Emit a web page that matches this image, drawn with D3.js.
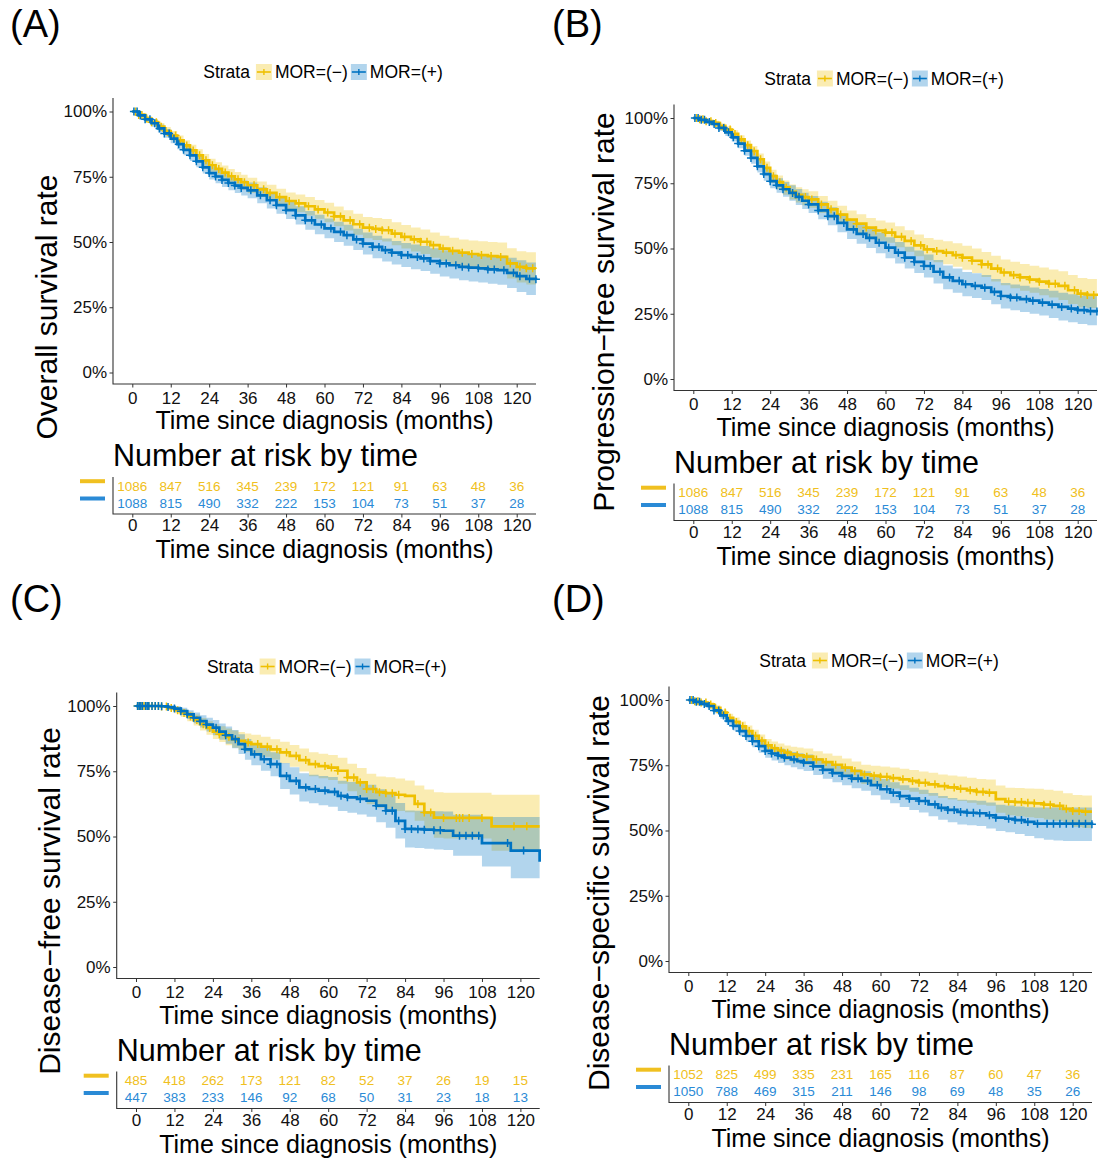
<!DOCTYPE html>
<html>
<head>
<meta charset="utf-8">
<script src="https://cdn.jsdelivr.net/npm/d3@7"></script>
<style>
  body { margin: 0; background: #fff; }
  text { font-family: "Liberation Sans", Arial, sans-serif; }
</style>
</head>
<body>
<div id="chart"></div>
<script>
// time grid of the step curves (months)
const T = [0,2,4,6,8,10,12,14,16,18,20,22,24,26,28,30,32,34,36,39,42,45,48,51,54,57,60,63,66,69,72,75,78,81,84,87,90,93,96,99,102,105,108,111,114,117,120,123,126];

const monthTicks = [0,12,24,36,48,60,72,84,96,108,120];
const pctTicks = [0,25,50,75,100];
const groups = ["MOR=(\u2212)", "MOR=(+)"];

// (A) overall survival
const osNeg   = [100,98.7,97.3,95.9,94.2,92.5,90.8,88.9,87.0,85.1,83.2,81.3,79.4,78.0,76.6,75.2,74.0,72.9,71.7,70.2,68.8,67.2,65.7,64.8,63.7,62.5,61.3,59.8,58.3,56.8,55.5,55.0,54.5,53.2,52.0,51.0,50.1,48.8,47.5,46.6,45.9,45.4,45.0,44.6,44.3,41.8,40.5,39.9,39.9];
const osNegLo = [100,98,96.3,94.6,92.7,90.9,89,87,85,82.9,80.9,78.9,76.9,75.4,73.9,72.5,71.2,70,68.8,67.2,65.7,64,62.4,61.4,60.2,58.9,57.6,56,54.4,52.8,51.4,50.8,50.2,48.8,47.5,46.4,45.4,44,42.6,41.6,40.8,40.2,39.7,39.2,38.8,36,34.5,33.7,33.7];
const osNegHi = [100,99.4,98.3,97.1,95.6,94.1,92.5,90.8,89,87.3,85.5,83.7,81.9,80.6,79.3,78,76.8,75.8,74.6,73.2,71.9,70.4,69,68.2,67.2,66.1,65,63.6,62.2,60.8,59.6,59.2,58.8,57.6,56.5,55.6,54.8,53.6,52.4,51.6,51,50.6,50.3,50,49.8,47.6,46.5,46.1,46.1];
const osPos   = [100,98.5,97.0,95.5,93.5,91.6,89.6,87.5,85.3,83.2,80.9,78.6,76.4,75.1,73.8,72.6,71.6,70.7,69.8,67.9,66.0,64.1,62.2,60.2,58.3,56.7,55.2,53.9,52.6,51.0,49.4,48.1,46.9,45.9,45.0,44.3,43.7,42.7,41.8,41.1,40.5,40.2,39.9,39.5,39.2,38.2,36.9,35.9,35.7];
const osPosLo = [100,97.8,96,94.2,92,89.9,87.8,85.5,83.2,81,78.6,76.2,73.9,72.5,71.1,69.8,68.8,67.8,66.8,64.8,62.8,60.8,58.8,56.7,54.7,53,51.4,50,48.6,46.9,45.2,43.8,42.5,41.4,40.4,39.6,38.9,37.8,36.8,36,35.3,34.9,34.5,34,33.6,32.4,30.8,29.7,29.5];
const osPosHi = [100,99.2,98,96.8,95,93.3,91.4,89.5,87.4,85.4,83.2,81,78.9,77.7,76.5,75.4,74.4,73.6,72.8,71,69.2,67.4,65.6,63.7,61.9,60.4,59,57.8,56.6,55.1,53.6,52.4,51.3,50.4,49.6,49,48.5,47.6,46.8,46.2,45.7,45.5,45.3,45,44.8,44,43,42.1,41.9];
const osNegCens = [1,2,3,4.5,6,7.5,9,10.5,12,13.5,15,17,19,21,23,25,27,29,31,33,35,38,41,43,46,49,52,55,58,61,63,65,68,71,74,76,78,80,82,85,88,90,92,94,97,100,103,106,109,112,115,118,121,123,125];
const osPosCens = [0.5,1.5,2.5,4,5.5,7,8.5,10,11.5,13,14.5,16,18,20,22,24,26,28,30,32,34,37,40,43,45,48,51,54,56,59,62,65,67,70,72,75,77,79,81,84,86,89,91,93,96,98,101,103,105,108,111,113,116,119,121,124,126];
const osRiskNeg = [1086,847,516,345,239,172,121,91,63,48,36];
const osRiskPos = [1088,815,490,332,222,153,104,73,51,37,28];

// (B) progression-free survival
const pfsNeg   = [100,99.5,98.8,98.1,97.0,95.6,93.9,91.8,89.6,87.3,84.2,80.9,77.7,75.4,73.4,71.7,70.6,69.7,68.8,66.9,65.0,63.0,61.1,59.5,58.0,56.9,56.1,54.5,52.9,51.2,49.7,49.0,48.4,47.5,46.5,45.3,43.9,42.3,40.8,39.8,38.9,38.1,37.3,36.5,35.7,34.0,32.7,32.2,31.8];
const pfsNegLo = [100,99.1,98.1,97.2,95.9,94.3,92.4,90.1,87.7,85.2,82,78.5,75.1,72.7,70.6,68.8,67.6,66.6,65.6,63.6,61.6,59.5,57.5,55.8,54.2,53,52.2,50.5,48.8,47,45.5,44.7,44,43,41.9,40.6,39.1,37.4,35.9,34.8,33.8,33,32.1,31.2,30.3,28.7,27.5,27.2,27];
const pfsNegHi = [100,99.9,99.4,98.9,98,96.8,95.3,93.4,91.4,89.3,86.4,83.3,80.2,78,76.1,74.5,73.5,72.7,71.9,70.1,68.3,66.4,64.6,63.1,61.7,60.7,60,58.5,57,55.4,54,53.4,52.8,52,51.1,50,48.7,47.2,45.8,44.9,44.1,43.4,42.7,42,41.3,39.8,38.7,38.3,38];
const pfsPos   = [100,99.3,98.5,97.7,96.2,94.5,92.6,90.2,87.5,84.7,81.5,78.5,75.8,74.2,72.7,71.3,69.8,68.3,66.9,64.6,62.4,59.8,57.3,55.6,54.1,52.2,50.3,48.4,46.5,44.9,43.3,41.1,38.9,37.6,36.3,35.7,35.0,33.4,31.8,31.2,30.6,30.0,29.3,28.5,27.6,27.0,26.4,26.0,25.9];
const pfsPosLo = [100,98.8,97.7,96.7,95,93.1,91,88.4,85.5,82.5,79.1,76,73.1,71.4,69.8,68.3,66.7,65.1,63.6,61.2,58.9,56.2,53.6,51.8,50.2,48.2,46.3,44.3,42.3,40.6,38.9,36.6,34.4,33,31.7,31,30.3,28.6,27,26.3,25.7,25,24.3,23.4,22.4,21.7,21.1,20.6,20.4];
const pfsPosHi = [100,99.8,99.2,98.6,97.3,95.8,94.1,91.9,89.4,86.8,83.8,81,78.4,76.9,75.5,74.2,72.8,71.4,70.1,67.9,65.8,63.3,60.9,59.3,57.9,56.1,54.3,52.5,50.7,49.2,47.7,45.6,43.5,42.3,41,40.5,39.8,38.3,36.8,36.2,35.7,35.1,34.5,33.8,33,32.5,32,31.7,31.6];
const pfsNegCens = [1,2,3,4,5.5,7,8.5,10,11.5,13,15,17,19,21,23,25,27,29,32,35,37,40,43,46,48,51,54,57,60,62,65,68,71,73,76,79,82,84,87,90,92,95,97,100,102,105,108,111,113,116,119,121,123,125];
const pfsPosCens = [0.5,1.5,2.5,3.5,5,6.5,8,9.5,11,12.5,14,16,18,20,22,24,26,28,31,33,36,39,42,44,47,50,53,55,58,61,64,66,69,72,74,77,80,83,85,88,91,94,96,99,101,104,106,109,112,115,118,120,122,124,126];
const pfsRiskNeg = [1086,847,516,345,239,172,121,91,63,48,36];
const pfsRiskPos = [1088,815,490,332,222,153,104,73,51,37,28];

// (C) disease-free survival
const dfsNeg   = [100,100,100,100,99.8,99.2,98.4,97.3,96.0,94.6,93.0,91.6,90.2,89.2,88.2,87.3,86.6,86.0,85.4,84.4,83.4,82.2,80.9,79.3,77.7,77.0,76.4,75.2,72.6,70.7,68.2,67.0,66.6,66.0,65.6,62.5,59.2,57.2,57.1,57.1,57.1,57.1,57.1,53.9,53.9,53.9,53.9,53.9,53.9];
const dfsNegLo = [100,100,100,100,99.4,98.4,97.2,95.8,94.2,92.5,90.6,89,87.4,86.2,85,84,83.2,82.5,81.8,80.6,79.5,78.1,76.7,74.9,73.1,72.3,71.6,70.2,67.3,65.2,62.4,61,60.5,59.8,59.3,56,52.5,49.5,49.2,49.2,49.2,49.2,49.2,44.5,44.5,44.5,44.5,44.5,44.5];
const dfsNegHi = [100,100,100,100,100,100,99.6,98.8,97.8,96.7,95.4,94.2,93,92.2,91.4,90.6,90,89.5,89,88.2,87.3,86.3,85.1,83.7,82.3,81.7,81.2,80.2,77.9,76.2,74,73,72.7,72.2,71.5,69.5,68,67,66.8,66.8,66.8,66.8,66.8,66,66,66,66,66,66];
const dfsPos   = [100,100,100,100,99.9,99.6,99.0,98.0,96.8,95.5,94.2,92.9,91.7,90.2,88.8,87.3,85.4,83.4,81.5,79.6,77.7,73.2,71.3,68.8,68.2,67.6,67.1,65.6,65.0,64.4,63.7,61.8,59.9,56.0,52.9,52.8,52.6,52.4,52.2,50.3,50.3,50.3,47.5,47.5,47.5,44.6,44.6,44.6,40.3];
const dfsPosLo = [100,100,100,100,99.6,98.9,98,96.6,95,93.4,91.8,90.2,88.8,87.1,85.5,83.8,81.6,79.4,77.3,75.2,73.1,68.2,66.1,63.4,62.7,62,61.4,59.8,59.1,58.4,57.6,55.5,53.4,49.2,45.8,45.6,45.3,45,44.8,42.6,42.6,42.6,38.5,38.5,38.5,34,34,34,33.8];
const dfsPosHi = [100,100,100,100,100,100,99.9,99.3,98.4,97.5,96.5,95.5,94.6,93.3,92.1,90.8,89.2,87.4,85.7,84,82.3,78.2,76.5,74.2,73.7,73.2,72.8,71.4,70.9,70.4,69.8,68.1,66.4,62.8,60,59.9,59.8,59.7,59.6,58.3,58.3,58.3,57.5,57.5,57.5,57.5,57.5,57.5,57.5];
const dfsNegCens = [0.5,1,1.5,2,2.5,3,4,5,6,7,8,9.5,11,13,15,17,19,21,23,26,29,32,35,38,41,44,47,50,53,56,59,61,63,66,68,70,72,74,76,78,80,82,88,90,92,96,100,101,102,104,108,118,122];
const dfsPosCens = [0.5,1,1.5,2,3,3.5,4,5,6,7,8,10,12,14,16,18,20,22,25,28,31,34,37,40,42,44,47,50,53,56,59,62,64,66,70,75,78,80,82,84,86,88,90,93,95,101,103,105,107,116,121];
const dfsRiskNeg = [485,418,262,173,121,82,52,37,26,19,15];
const dfsRiskPos = [447,383,233,146,92,68,50,31,23,18,13];

// (D) disease-specific survival
const dssNeg   = [100,99.5,99.0,98.3,97.0,95.2,93.2,91.6,89.9,88.1,86.3,84.4,82.6,81.5,80.6,79.8,79.2,78.8,78.3,77.2,76.2,75.2,74.1,72.8,71.5,71.0,70.6,70.1,69.6,69.0,68.3,67.7,67.0,66.5,66.0,65.4,64.8,64.5,62.0,61.1,60.9,60.6,60.4,59.9,59.4,58.3,57.5,57.2,57.2];
const dssNegLo = [100,99.1,98.4,97.5,96,94,91.7,89.9,88,86,84,82,80.1,78.9,77.9,77,76.3,75.8,75.2,74,72.9,71.8,70.6,69.2,67.8,67.2,66.7,66.1,65.5,64.8,64,63.3,62.5,61.9,61.3,60.6,59.9,59.5,56.8,55.8,55.5,55.1,54.8,54.2,53.6,52.3,51.4,51,51];
const dssNegHi = [100,99.9,99.6,99.1,98,96.4,94.7,93.3,91.8,90.2,88.6,86.8,85.1,84.1,83.3,82.6,82.1,81.8,81.4,80.4,79.5,78.6,77.6,76.4,75.2,74.8,74.5,74.1,73.7,73.2,72.6,72.1,71.5,71.1,70.7,70.2,69.7,69.5,67.2,66.4,66.3,66.1,66,65.6,65.2,64.3,63.6,63.4,63.4];
const dssPos   = [100,99.3,98.5,97.7,96.0,94.1,92.0,90.1,88.1,86.2,84.2,82.3,80.5,79.5,78.7,77.9,77.2,76.6,76.0,74.6,73.2,72.0,70.9,69.9,69.0,67.4,65.8,64.5,63.2,62.2,61.3,60.0,58.7,57.9,57.1,56.8,56.6,55.8,54.9,54.5,54.0,53.3,52.6,52.6,52.6,52.6,52.6,52.6,52.4];
const dssPosLo = [100,98.8,97.8,96.8,94.9,92.8,90.4,88.3,86.1,84,81.9,79.8,77.9,76.8,75.9,75,74.2,73.5,72.8,71.3,69.8,68.5,67.3,66.2,65.2,63.5,61.8,60.4,59,57.9,56.9,55.5,54.1,53.2,52.3,52,51.7,50.8,49.8,49.3,48.7,47.9,47,46.5,46.2,46,46,46,45.8];
const dssPosHi = [100,99.8,99.2,98.6,97.1,95.4,93.5,91.8,90,88.3,86.4,84.7,83,82.1,81.4,80.7,80.1,79.6,79.1,77.8,76.5,75.4,74.4,73.5,72.7,71.2,69.7,68.5,67.3,66.4,65.6,64.4,63.2,62.5,61.8,61.6,61.4,60.7,59.9,59.6,59.2,58.9,58.8,58.8,58.8,58.8,58.8,58.8,58.8];
const dssNegCens = [1,2,3,4,5.5,7,8.5,10,11.5,13,15,17,19,21,23,25,27,29,31,34,37,40,43,46,49,52,55,58,60,62,64,67,70,72,74,77,80,83,85,88,90,92,94,100,102,104,106,108,111,113,116,118,120,122,124];
const dssPosCens = [0.5,1.5,2.5,3.5,5,6.5,8,9.5,11,12.5,14,16,18,20,22,24,26,28,30,33,36,39,42,45,48,51,53,56,59,62,64,66,69,72,74,77,79,81,83,85,87,89,91,94,96,100,102,104,106,109,112,114,116,118,120,122,124,126];
const dssRiskNeg = [1052,825,499,335,231,165,116,87,60,47,36];
const dssRiskPos = [1050,788,469,315,211,146,98,69,48,35,26];

const YEL = "#EFC000", BLU = "#0073C2";
const YEL_T = "#F0C020", BLU_T = "#2A8AD6";
const width = 1098, height = 1160;

const panels = [
  { label: "(A)", lx: 10, ly: 37, dx: 0, dy: 0, ytitle: "Overall survival rate", ytx: 57, yty: 307,
    neg: [osNeg, osNegLo, osNegHi, osNegCens], pos: [osPos, osPosLo, osPosHi, osPosCens], risk: [osRiskNeg, osRiskPos] },
  { label: "(B)", lx: 552, ly: 37, dx: 561, dy: 6.5, ytitle: "Progression\u2212free survival rate", ytx: 614, yty: 312,
    neg: [pfsNeg, pfsNegLo, pfsNegHi, pfsNegCens], pos: [pfsPos, pfsPosLo, pfsPosHi, pfsPosCens], risk: [pfsRiskNeg, pfsRiskPos] },
  { label: "(C)", lx: 10, ly: 612, dx: 3.7, dy: 594.5, ytitle: "Disease\u2212free survival rate", ytx: 60, yty: 901,
    neg: [dfsNeg, dfsNegLo, dfsNegHi, dfsNegCens], pos: [dfsPos, dfsPosLo, dfsPosHi, dfsPosCens], risk: [dfsRiskNeg, dfsRiskPos] },
  { label: "(D)", lx: 552, ly: 612, dx: 556, dy: 588.5, ytitle: "Disease\u2212specific survival rate", ytx: 609, yty: 893,
    neg: [dssNeg, dssNegLo, dssNegHi, dssNegCens], pos: [dssPos, dssPosLo, dssPosHi, dssPosCens], risk: [dssRiskNeg, dssRiskPos] }
];

const svg = d3.select("#chart").append("svg")
    .attr("width", width)
    .attr("height", height);

// base geometry of panel (A); other panels are shifted copies
const plotL = 113, plotR = 536, plotT = 98, plotB = 384;
const x = d3.scaleLinear().domain([0, 120]).range([132.3, 516.7]);
const y = d3.scaleLinear().domain([0, 100]).range([372.5, 111.5]);
const tabT = 477, tabB = 514, rowY = [485.7, 503];

function drawCurve(g, data, col) {
  const s = data[0], lo = data[1], hi = data[2], cens = data[3];
  const band = d3.area().curve(d3.curveStepAfter)
      .x((d, i) => x(T[i]))
      .y0((d, i) => y(lo[i]))
      .y1((d, i) => y(hi[i]));
  g.append("path").attr("d", band(s))
      .attr("fill", col).attr("fill-opacity", 0.3).attr("stroke", "none");
  return function() {
    const line = d3.line().curve(d3.curveStepAfter)
        .x((d, i) => x(T[i]))
        .y(d => y(d));
    g.append("path").attr("d", line(s))
        .attr("fill", "none").attr("stroke", col).attr("stroke-width", 2.7);
    g.selectAll(null).data(cens).enter().append("path")
        .attr("transform", t => {
          const i = d3.bisectRight(T, t) - 1;
          return "translate(" + x(t) + "," + y(s[i]) + ")";
        })
        .attr("d", "M-4,0H4M0,-4V4")
        .attr("stroke", col).attr("stroke-width", 1.5);
  };
}

function drawPanel(p) {
  svg.append("text").attr("x", p.lx).attr("y", p.ly)
      .attr("font-size", 38).attr("fill", "#000").text(p.label);

  svg.append("text")
      .attr("transform", "translate(" + p.ytx + "," + p.yty + ") rotate(-90)")
      .attr("text-anchor", "middle").attr("font-size", 30).attr("fill", "#000")
      .text(p.ytitle);

  const g = svg.append("g").attr("transform", "translate(" + p.dx + "," + p.dy + ")");

  // legend
  const lg = g.append("g");
  const ly = 72;
  let cx = 0;
  const st = lg.append("text").attr("x", cx).attr("y", ly + 6).attr("font-size", 17.5).text("Strata");
  cx += st.node().getComputedTextLength() + 6;
  [YEL, BLU].forEach((col, k) => {
    lg.append("rect").attr("x", cx).attr("y", ly - 8).attr("width", 16).attr("height", 16)
        .attr("fill", col).attr("fill-opacity", 0.3);
    lg.append("line").attr("x1", cx + 1).attr("x2", cx + 15).attr("y1", ly).attr("y2", ly)
        .attr("stroke", col).attr("stroke-width", 1.6);
    lg.append("line").attr("x1", cx + 8).attr("x2", cx + 8).attr("y1", ly - 3).attr("y2", ly + 3)
        .attr("stroke", col).attr("stroke-width", 1.4);
    cx += 19;
    const tx = lg.append("text").attr("x", cx).attr("y", ly + 6).attr("font-size", 17.5).text(groups[k]);
    cx += tx.node().getComputedTextLength() + 3;
  });
  lg.attr("transform", "translate(" + ((plotL + plotR) / 2 - cx / 2) + ",0)");

  // survival curves
  const cg = g.append("g");
  const drawNegLine = drawCurve(cg, p.neg, YEL);
  const drawPosLine = drawCurve(cg, p.pos, BLU);
  drawNegLine();
  drawPosLine();

  // axes
  const yAxis = g.append("g").attr("transform", "translate(" + plotL + ",0)")
      .call(d3.axisLeft(y).tickValues(pctTicks).tickFormat(d => d + "%").tickSize(3.5).tickPadding(2.5));
  const xAxis = g.append("g").attr("transform", "translate(0," + plotB + ")")
      .call(d3.axisBottom(x).tickValues(monthTicks).tickSize(3.5).tickPadding(4));
  [yAxis, xAxis].forEach(a => {
    a.select(".domain").remove();
    a.selectAll("line").attr("stroke", "#333");
    a.selectAll("text").attr("font-size", 17).attr("fill", "#111")
        .attr("font-family", "Liberation Sans, Arial, sans-serif");
  });
  g.append("path").attr("d", "M" + plotL + "," + plotT + "V" + plotB + "H" + plotR)
      .attr("fill", "none").attr("stroke", "#333").attr("stroke-width", 1.1);

  g.append("text").attr("x", (x(0) + x(120)) / 2).attr("y", 429)
      .attr("text-anchor", "middle").attr("font-size", 25).text("Time since diagnosis (months)");

  // risk table
  g.append("text").attr("x", plotL).attr("y", 466).attr("font-size", 30.5).text("Number at risk by time");
  g.append("path").attr("d", "M" + plotL + "," + tabT + "V" + tabB + "H" + plotR)
      .attr("fill", "none").attr("stroke", "#333").attr("stroke-width", 1.1);
  const tAxis = g.append("g").attr("transform", "translate(0," + tabB + ")")
      .call(d3.axisBottom(x).tickValues(monthTicks).tickSize(3.5).tickPadding(1.5));
  tAxis.select(".domain").remove();
  tAxis.selectAll("line").attr("stroke", "#333");
  tAxis.selectAll("text").attr("font-size", 17).attr("fill", "#111")
      .attr("font-family", "Liberation Sans, Arial, sans-serif");

  [YEL_T, BLU_T].forEach((col, k) => {
    g.selectAll(null).data(p.risk[k]).enter().append("text")
        .attr("x", (d, i) => x(monthTicks[i]))
        .attr("y", rowY[k] + 4.8)
        .attr("text-anchor", "middle").attr("font-size", 13.5).attr("fill", col)
        .text(d => d);
    g.append("rect").attr("x", 80).attr("y", rowY[k] - 6.5).attr("width", 25).attr("height", 4)
        .attr("fill", col);
  });

  g.append("text").attr("x", (x(0) + x(120)) / 2).attr("y", 558)
      .attr("text-anchor", "middle").attr("font-size", 25).text("Time since diagnosis (months)");
}

panels.forEach(drawPanel);
</script>
</body>
</html>
